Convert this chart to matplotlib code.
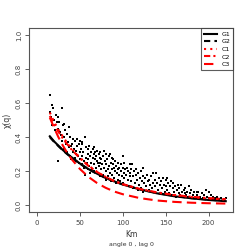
import matplotlib
matplotlib.use("Agg")
import matplotlib.pyplot as plt

# model curves, values at these distances
km = [15, 20, 25, 30, 35, 40, 50, 60, 70, 80, 90, 100, 120, 140, 160, 180, 200, 220]
g1 = [0.405, 0.375, 0.350, 0.325, 0.303, 0.283, 0.245, 0.212, 0.185, 0.160, 0.140,
      0.121, 0.092, 0.069, 0.052, 0.040, 0.030, 0.023]
g2 = [0.400, 0.372, 0.347, 0.323, 0.301, 0.281, 0.244, 0.211, 0.184, 0.160, 0.140,
      0.122, 0.093, 0.071, 0.054, 0.041, 0.032, 0.025]
c1 = [0.545, 0.490, 0.445, 0.405, 0.368, 0.335, 0.280, 0.233, 0.196, 0.166, 0.142,
      0.123, 0.094, 0.073, 0.058, 0.047, 0.039, 0.033]
c2 = [0.525, 0.475, 0.432, 0.394, 0.360, 0.329, 0.276, 0.231, 0.195, 0.166, 0.142,
      0.123, 0.095, 0.075, 0.060, 0.049, 0.041, 0.035]
c3 = [0.515, 0.455, 0.400, 0.352, 0.310, 0.273, 0.213, 0.166, 0.130, 0.102, 0.080,
      0.064, 0.041, 0.027, 0.019, 0.014, 0.011, 0.009]

# empirical pairs (distance, chi)
pairs = [
    (15, 0.65), (15, 0.55), (16, 0.52), (17, 0.47), (18, 0.59), (19, 0.57), (20, 0.50),
    (21, 0.44), (22, 0.53), (23, 0.49), (24, 0.26), (24, 0.52), (25, 0.45), (26, 0.49),
    (27, 0.43), (28, 0.41), (29, 0.57), (29, 0.38), (30, 0.47),
    (31, 0.33), (32, 0.48), (32, 0.40), (33, 0.44), (34, 0.36), (35, 0.42), (35, 0.31),
    (36, 0.37), (37, 0.46), (37, 0.34), (38, 0.29), (39, 0.40), (40, 0.35), (40, 0.27),
    (41, 0.36), (42, 0.39), (42, 0.31), (43, 0.33), (44, 0.28), (44, 0.38), (45, 0.30),
    (46, 0.32), (46, 0.26), (47, 0.39), (47, 0.35), (48, 0.29), (49, 0.36), (49, 0.25),
    (50, 0.38), (50, 0.31), (50, 0.27),
    (51, 0.33), (52, 0.24), (52, 0.36), (53, 0.37), (53, 0.29), (54, 0.31), (55, 0.26),
    (55, 0.22), (56, 0.40), (56, 0.18), (57, 0.34), (57, 0.28), (58, 0.25), (59, 0.30),
    (59, 0.21), (60, 0.33), (60, 0.27), (61, 0.35), (61, 0.23), (62, 0.29), (62, 0.19),
    (63, 0.31), (63, 0.25), (64, 0.21), (65, 0.28), (65, 0.33), (66, 0.24), (66, 0.30),
    (67, 0.34), (67, 0.20), (68, 0.27), (68, 0.31), (69, 0.22), (69, 0.29), (70, 0.26),
    (70, 0.32), (71, 0.19), (71, 0.25), (72, 0.30), (72, 0.23), (73, 0.28), (73, 0.17),
    (74, 0.25), (74, 0.31), (75, 0.21), (75, 0.27),
    (76, 0.24), (77, 0.29), (77, 0.18), (78, 0.32), (78, 0.22), (79, 0.26), (80, 0.20),
    (80, 0.30), (81, 0.15), (81, 0.24), (82, 0.27), (83, 0.21), (83, 0.17), (84, 0.29),
    (84, 0.23), (85, 0.30), (85, 0.19), (86, 0.25), (86, 0.14), (87, 0.28), (87, 0.21),
    (88, 0.18), (89, 0.24), (89, 0.27), (90, 0.16), (90, 0.22), (91, 0.20), (91, 0.26),
    (92, 0.13), (92, 0.23), (93, 0.19), (94, 0.25), (94, 0.15), (95, 0.21), (96, 0.18),
    (96, 0.22), (97, 0.14), (98, 0.24), (98, 0.20), (99, 0.17), (100, 0.29), (100, 0.22),
    (100, 0.13),
    (101, 0.19), (102, 0.25), (102, 0.16), (103, 0.21), (104, 0.12), (104, 0.18),
    (105, 0.22), (106, 0.15), (106, 0.20), (107, 0.11), (108, 0.17), (108, 0.24),
    (109, 0.19), (110, 0.14), (110, 0.21), (111, 0.24), (112, 0.10), (112, 0.17),
    (113, 0.20), (114, 0.13), (115, 0.18), (116, 0.21), (117, 0.15), (118, 0.09),
    (118, 0.19), (119, 0.12), (120, 0.16), (121, 0.20), (121, 0.10), (122, 0.14),
    (123, 0.22), (124, 0.17), (124, 0.08), (125, 0.13),
    (126, 0.16), (127, 0.11), (128, 0.18), (129, 0.14), (130, 0.09), (131, 0.15),
    (132, 0.12), (133, 0.17), (134, 0.10), (135, 0.19), (135, 0.13), (136, 0.08),
    (137, 0.15), (138, 0.11), (139, 0.19), (140, 0.13), (141, 0.09), (142, 0.16),
    (143, 0.12), (144, 0.07), (145, 0.14), (146, 0.10), (147, 0.16), (148, 0.12),
    (149, 0.08), (150, 0.15), (150, 0.11),
    (151, 0.16), (152, 0.09), (153, 0.13), (154, 0.07), (155, 0.11), (156, 0.14),
    (157, 0.06), (158, 0.10), (159, 0.13), (160, 0.08), (161, 0.11), (162, 0.05),
    (163, 0.09), (164, 0.12), (165, 0.07), (166, 0.10), (167, 0.06), (168, 0.12),
    (169, 0.08), (170, 0.05), (171, 0.09), (172, 0.07), (173, 0.10), (174, 0.06),
    (175, 0.08),
    (176, 0.05), (177, 0.11), (178, 0.07), (179, 0.04), (180, 0.09), (182, 0.06),
    (183, 0.075), (184, 0.05), (186, 0.08), (187, 0.06), (188, 0.08), (190, 0.05),
    (192, 0.07), (193, 0.04), (195, 0.06), (197, 0.09), (198, 0.05), (200, 0.08),
    (201, 0.04), (203, 0.06), (205, 0.05), (207, 0.04), (210, 0.05), (212, 0.035),
    (215, 0.04), (218, 0.03), (220, 0.04),
]
pt_x = [p[0] for p in pairs]
pt_y = [p[1] for p in pairs]

xticks = [0, 50, 100, 150, 200]
yticks = [0.0, 0.2, 0.4, 0.6, 0.8, 1.0]

fig = plt.figure(figsize=(2.49, 2.49), dpi=100)
ax = fig.add_axes([0.118, 0.149, 0.819, 0.737])

ax.scatter(pt_x, pt_y, s=1.0, marker="s", c="black", linewidths=0)
ax.plot(km, g1, color="black", lw=1.5, ls="-", label="G1")
ax.plot(km, g2, color="black", lw=1.5, ls=(0, (3, 2)), label="G2")
ax.plot(km, c1, color="red", lw=1.5, ls=(0, (1, 2)), label="C1")
ax.plot(km, c2, color="red", lw=1.5, ls=(0, (3, 1.5, 1, 1.5)), label="C2")
ax.plot(km, c3, color="red", lw=1.5, ls=(0, (4.5, 2.5)), label="C3")

ax.set_xlim(-8.8, 228.8)
ax.set_ylim(-0.04, 1.04)
ax.set_xticks(xticks)
ax.set_xticklabels([str(t) for t in xticks])
ax.set_yticks(yticks)
ax.set_yticklabels(["%.1f" % t for t in yticks], rotation=90, va="center")
ax.tick_params(length=3, width=0.6, labelsize=5, colors="#444444", pad=2.5)
for sp in ax.spines.values():
    sp.set_linewidth(0.8)
    sp.set_color("#555555")

leg = ax.legend(loc="upper right", fontsize=4.5, frameon=True, fancybox=False,
                borderaxespad=0, handlelength=2.0, handletextpad=0.7,
                labelspacing=0.35, borderpad=0.5)
leg.get_frame().set_edgecolor("#333333")
leg.get_frame().set_linewidth(0.8)

fig.text(0.527, 0.058, "Km", ha="center", va="center", fontsize=5.5, color="#333333")
fig.text(0.527, 0.018, "angle 0 , lag 0", ha="center", va="center", fontsize=4.5,
         color="#333333")
fig.text(0.03, 0.515, "χ(q)", ha="center", va="center", rotation=90, fontsize=5.5,
         color="#333333")

fig.savefig("out.png", dpi=100)
